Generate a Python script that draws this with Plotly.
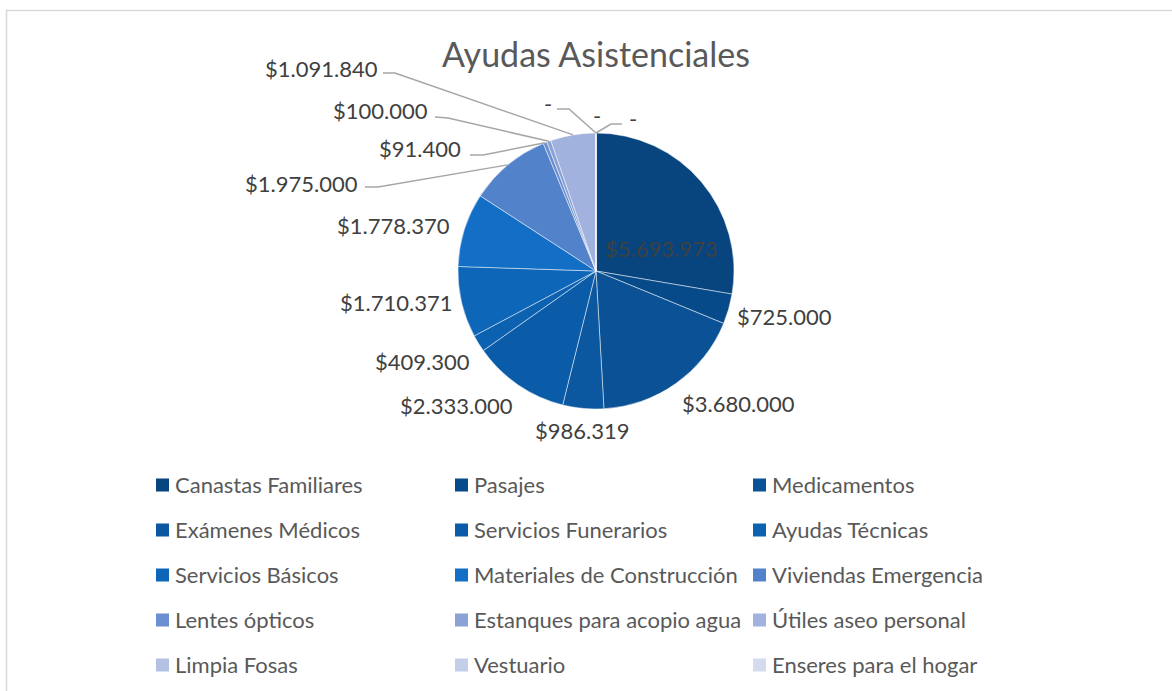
import math
import plotly.graph_objects as go

# ---------------- data ----------------
categories = [
    "Canastas Familiares", "Pasajes", "Medicamentos",
    "Exámenes Médicos", "Servicios Funerarios", "Ayudas Técnicas",
    "Servicios Básicos", "Materiales de Construcción", "Viviendas Emergencia",
    "Lentes ópticos", "Estanques para acopio agua", "Útiles aseo personal",
    "Limpia Fosas", "Vestuario", "Enseres para el hogar",
]
values = [5693973, 725000, 3680000, 986319, 2333000, 409300, 1710371,
          1778370, 1975000, 91400, 100000, 1091840, 0, 0, 0]
title_text = "Ayudas Asistenciales"

# ---------------- style ----------------
colors = ["#08457E", "#074A8A", "#0A5295", "#0B58A0", "#0B5CA8", "#0C61B0",
          "#0E66B9", "#136FC6", "#5283CA", "#6B8FD0", "#8AA2D6", "#A0B2DD",
          "#B3C2E3", "#C3CEE8", "#D3DBEE"]
W, H = 1172, 691
CX, CY, R = 596, 271, 138          # pie centre / radius in px
FONT = "Lato"
LABEL_COLOR = "#404040"
LEGEND_COLOR = "#595959"
LINE_COLOR = "#A6A6A6"
LABEL_SIZE = 22
LEGEND_SIZE = 22
TITLE_SIZE = 34

# label placement (px): (x, y, xanchor); and optional leader-line elbow points
label_place = {
    0: (661, 248, "center"),
    1: (735, 316, "left"), 2: (680, 403, "left"), 3: (582, 430, "center"),
    4: (515, 405, "right"), 5: (472, 361, "right"), 6: (454, 302, "right"),
    7: (452, 225, "right"), 8: (360, 183, "right"), 9: (463, 148, "right"),
    10: (430, 110, "right"), 11: (380, 68, "right"),
    12: (548, 103, "center"), 13: (597, 115, "center"), 14: (633, 119, "center"),
}
leader = {
    8: [(365, 187), (378, 187)],
    9: [(470, 155), (483, 155)],
    10: [(435, 117), (448, 118)],
    11: [(383, 73), (395, 73)],
    12: [(557, 109), (569, 109)],
    14: [(622, 124), (611, 124)],
}


def fmt(v):
    return "-" if v == 0 else "$" + f"{v:,}".replace(",", ".")


def px(x, y):
    return x / W, 1 - y / H


total = sum(values)
mid_angles = []
cum = 0
for v in values:
    a0 = cum / total * 360
    cum += v
    a1 = cum / total * 360
    mid_angles.append((a0 + a1) / 2)


def edge_point(i):
    th = math.radians(mid_angles[i])
    return CX + R * math.sin(th), CY - R * math.cos(th)


fig = go.Figure(go.Pie(
    labels=categories, values=values, sort=False, direction="clockwise",
    rotation=0, textinfo="none",
    marker=dict(colors=colors, line=dict(color="rgba(255,255,255,0.6)", width=0.8)),
    domain=dict(x=[(CX - R) / W, (CX + R) / W], y=[1 - (CY + R) / H, 1 - (CY - R) / H]),
    showlegend=False, hoverinfo="label+value",
))

annotations = []
shapes = []

# data labels
for i, (x, y, anc) in label_place.items():
    xp, yp = px(x, y)
    annotations.append(dict(x=xp, y=yp, xref="paper", yref="paper", text=fmt(values[i]),
                            showarrow=False, xanchor=anc, yanchor="middle",
                            font=dict(family=FONT, size=LABEL_SIZE, color=LABEL_COLOR)))

# leader lines
for i, pts in leader.items():
    ex, ey = edge_point(i)
    allpts = pts + [(ex, ey)]
    path = "M " + " L ".join(f"{px(a, b)[0]},{px(a, b)[1]}" for a, b in allpts)
    shapes.append(dict(type="path", path=path, xref="paper", yref="paper",
                       line=dict(color=LINE_COLOR, width=1.5)))

# manual legend grid (3 columns)
col_x = [156, 455, 753]
row_y0, row_step, sq = 485, 45, 13
for k, name in enumerate(categories):
    r, c = divmod(k, 3)
    x0 = col_x[c]
    yc = row_y0 + r * row_step
    a0 = px(x0, yc + sq / 2)
    a1 = px(x0 + sq, yc - sq / 2)
    shapes.append(dict(type="rect", xref="paper", yref="paper", x0=a0[0], y0=a0[1],
                       x1=a1[0], y1=a1[1], fillcolor=colors[k], line=dict(width=0)))
    tp = px(x0 + sq + 4, yc - 1)
    annotations.append(dict(x=tp[0], y=tp[1], xref="paper", yref="paper", text=name,
                            showarrow=False, xanchor="left", yanchor="middle",
                            font=dict(family=FONT, size=LEGEND_SIZE, color=LEGEND_COLOR)))

# chart border (partially visible as in the reference)
b0 = px(6.5, 10.5)
shapes.append(dict(type="path", xref="paper", yref="paper",
                   path=f"M {b0[0]},0 L {b0[0]},{b0[1]} L 1,{b0[1]}",
                   line=dict(color="#D9D9D9", width=1.5)))

tx, ty = px(596, 55)
fig.update_layout(
    width=W, height=H, margin=dict(l=0, r=0, t=0, b=0),
    paper_bgcolor="white", plot_bgcolor="white",
    title=dict(text=title_text, x=tx, y=ty, xanchor="center", yanchor="middle",
               xref="paper", yref="paper",
               font=dict(family=FONT, size=TITLE_SIZE, color=LEGEND_COLOR)),
    annotations=annotations, shapes=shapes,
)

fig.write_html("out.html", config={"displayModeBar": False},
               post_script="document.body.style.margin='0';")
